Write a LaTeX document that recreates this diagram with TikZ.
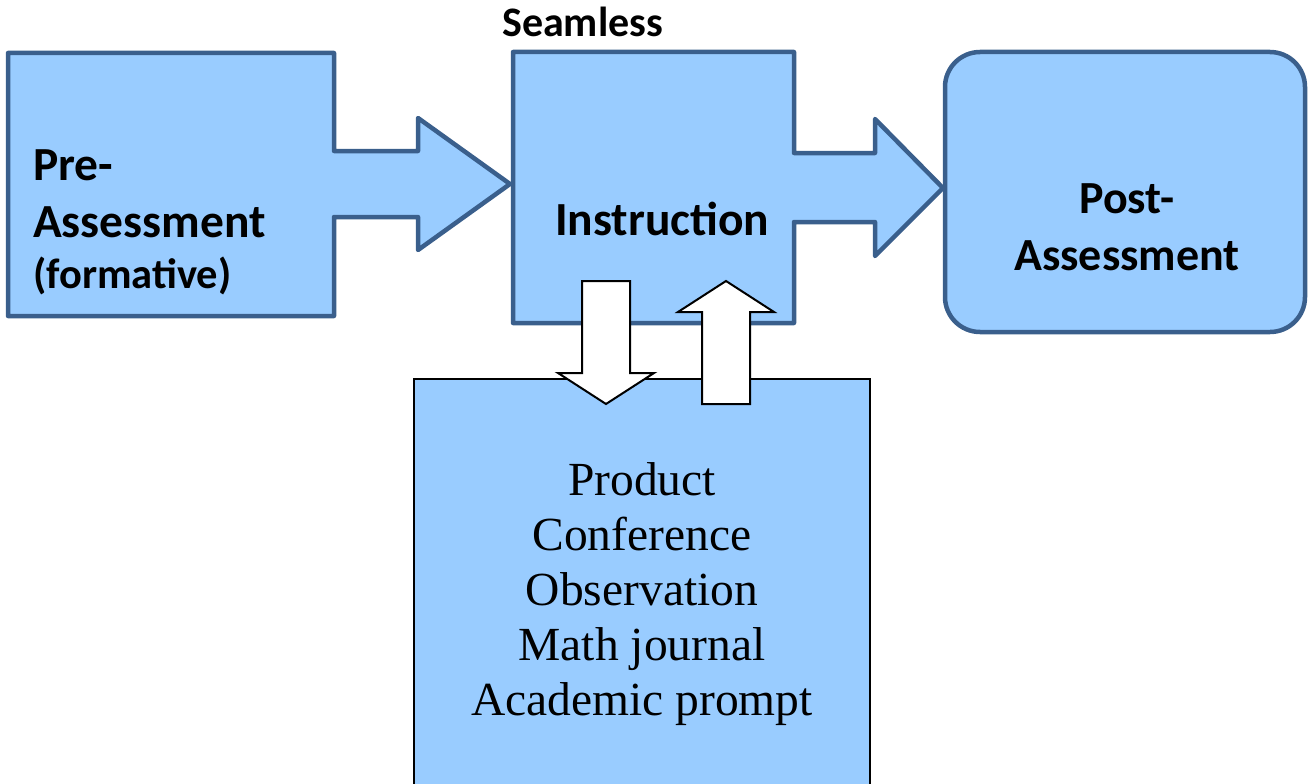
\documentclass[tikz,border=0pt]{standalone}
\usepackage{fontspec}
\setmainfont{Liberation Serif}
\newfontfamily\carl{Carlito}
\definecolor{boxfill}{HTML}{99CCFF}
\definecolor{boxline}{HTML}{3A5F8C}
\begin{document}
\begin{tikzpicture}[x=1pt,y=-1pt,
  bluebox/.style={draw=boxline, fill=boxfill, line width=4.5pt, line join=round},
  blackbox/.style={draw=black, fill=boxfill, line width=2pt},
  whitearrow/.style={draw=black, fill=white, line width=2pt, line join=miter},
  boldlbl/.style={font=\carl\bfseries\fontsize{47.5}{55}\selectfont, inner sep=0pt},
  seriflbl/.style={font=\fontsize{47.5}{55.5}\selectfont, inner sep=0pt, align=center}]
\useasboundingbox (0,0) rectangle (1315,784);
% Pre-Assessment callout
\draw[bluebox] (8,53) -- (334,53) -- (334,151) -- (418,151) -- (418,118) -- (510,184)
  -- (418,250) -- (418,217) -- (334,217) -- (334,316) -- (8,316) -- cycle;
% Instruction callout
\draw[bluebox] (513,52) -- (794,52) -- (794,153) -- (875,153) -- (875,119) -- (943,188)
  -- (875,256) -- (875,222) -- (794,222) -- (794,323) -- (513,323) -- cycle;
% Post-Assessment
\draw[bluebox, rounded corners=35pt] (945,52) rectangle (1305,332);
% bottom box
\draw[blackbox] (414,379) rectangle (870,800);
% white arrows
\draw[whitearrow] (582,281) -- (630,281) -- (630,373) -- (654,373) -- (606,404)
  -- (558,373) -- (582,373) -- cycle;
\draw[whitearrow] (702,404) -- (750,404) -- (750,312) -- (774,312) -- (726,281)
  -- (678,312) -- (702,312) -- cycle;
% labels
\node[boldlbl, font=\carl\bfseries\fontsize{42}{50}\selectfont, anchor=base west] (seamless) at (502,37) {Seamless};
\node[boldlbl, anchor=base west] (pre1) at (33,180) {Pre-};
\node[boldlbl, anchor=base west] (pre2) at (33,237) {Assessment};
\node[boldlbl, font=\carl\bfseries\fontsize{42.5}{50}\selectfont, anchor=base west] (pre3) at (33,288) {(formative)};
\node[boldlbl, anchor=base west] (instr) at (555,235) {Instruction};
\node[boldlbl, font=\carl\bfseries\fontsize{46}{55}\selectfont, anchor=base] (post1) at (1127,213) {Post-};
\node[boldlbl, font=\carl\bfseries\fontsize{46}{55}\selectfont, anchor=base] (post2) at (1127,270) {Assessment};
\node[seriflbl, anchor=base] (l1) at (642,495) {Product};
\node[seriflbl, anchor=base] (l2) at (642,550) {Conference};
\node[seriflbl, anchor=base] (l3) at (642,605) {Observation};
\node[seriflbl, anchor=base] (l4) at (642,660) {Math journal};
\node[seriflbl, anchor=base] (l5) at (642,715) {Academic prompt};
\end{tikzpicture}
\end{document}
